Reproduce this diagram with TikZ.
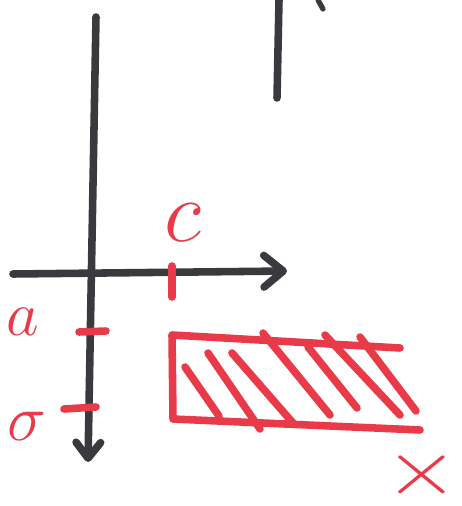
\documentclass[tikz,border=0pt]{standalone}
\usepackage{graphicx}
\usetikzlibrary{arrows.meta}
\definecolor{penred}{RGB}{232,58,72}
\definecolor{penblack}{RGB}{58,58,62}
\tikzset{
  inkline/.style={line width=4.3pt, line cap=round, line join=round},
  blackink/.style={inkline, penblack},
  redink/.style={inkline, penred},
  redtext/.style={text=penred, inner sep=0pt, font=\Huge}
}
\begin{document}
\begin{tikzpicture}[x=0.02cm, y=-0.02cm]
    \useasboundingbox (0,0) rectangle (462,506);

    % axes
    \draw[blackink, -{Straight Barb[length=9pt,width=14pt,round]}] (96,17) -- (88,462);
    \draw[blackink, -{Straight Barb[length=11pt,width=18pt,round]}] (13,274) -- (287,271);

    % line at the top
    \draw[blackink] (279,0) -- (277,98);
    \draw[blackink, line width=3pt] (318,0) -- (323,9);

    % ticks
    \draw[redink] (172,266) -- (172,297);
    \draw[redink] (79,332) -- (106,331);
    \draw[redink] (64,409) -- (96,407);

    % labels
    \node[redtext] (c) at (183,223) {\scalebox{2}{$c$}};
    \node[redtext] (a) at (23,322) {\scalebox{1.45}{$a$}};
    \node[redtext] (b) at (27,426) {\scalebox{1.5}{$\sigma$}};
    \node[redtext] (x) at (422,475) {\scalebox{2.2}[1.8]{$\times$}};

    % region
    \draw[redink] (400,348) -- (172,335) -- (173,419) -- (420,430);
    \draw[redink] (185,367) -- (219,416);
    \draw[redink] (208,353) -- (260,429);
    \draw[redink] (232,353) -- (293,423);
    \draw[redink] (263,333) -- (330,415);
    \draw[redink] (308,347) -- (357,408);
    \draw[redink] (325,335) -- (400,415);
    \draw[redink] (360,337) -- (416,411);
\end{tikzpicture}
\end{document}
